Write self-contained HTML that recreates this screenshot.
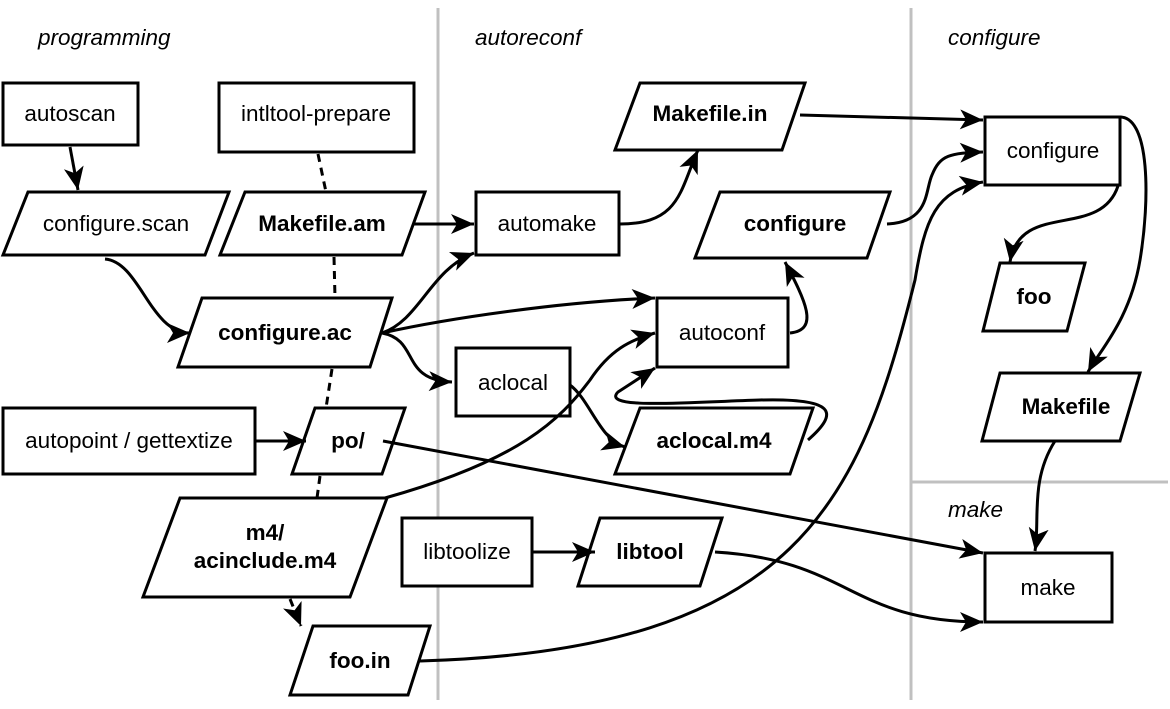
<!DOCTYPE html>
<html><head><meta charset="utf-8"><style>
html,body{margin:0;padding:0;background:#fff}
svg{display:block}
text{font-family:"Liberation Sans",sans-serif;font-size:22.5px;fill:#000}
.b{font-weight:bold}
.i{font-style:italic}
</style></head><body>
<svg width="1170" height="709" viewBox="0 0 1170 709" xmlns="http://www.w3.org/2000/svg">
<defs>
<marker id="a" markerUnits="userSpaceOnUse" markerWidth="26" markerHeight="22" refX="23" refY="10" orient="auto">
<path d="M0,0 L23,10 L0,20 L6,10 z" fill="#000"/>
</marker>
</defs>
<g stroke="#c0c0c0" stroke-width="3">
<line x1="438" y1="8" x2="438" y2="700"/>
<line x1="911" y1="8" x2="911" y2="700"/>
<line x1="911" y1="482" x2="1168" y2="482"/>
</g>
<text class="i" x="38" y="45">programming</text>
<text class="i" x="475" y="45">autoreconf</text>
<text class="i" x="948" y="45">configure</text>
<text class="i" x="948" y="517">make</text>

<g fill="#fff" stroke="#000" stroke-width="3">
<rect x="3" y="83" width="135" height="62"/>
<rect x="219" y="83" width="195" height="69"/>
<polygon points="28,192 229,192 205,255 3,255"/>
<polygon points="245,192 425,192 402,255 220,255"/>
<rect x="476" y="192" width="143" height="63"/>
<polygon points="640,83 805,83 782,150 615,150"/>
<polygon points="720,192 890,192 867,258 695,258"/>
<rect x="985" y="117" width="135" height="68"/>
<polygon points="202,298 392,298 370,367 178,367"/>
<rect x="657" y="298" width="131" height="69"/>
<rect x="456" y="348" width="114" height="68"/>
<polygon points="1000,263 1085,263 1067,331 983,331"/>
<polygon points="1000,373 1140,373 1120,441 982,441"/>
<rect x="3" y="408" width="252" height="66"/>
<polygon points="315,408 405,408 382,474 292,474"/>
<polygon points="640,408 813,408 790,474 615,474"/>
<polygon points="180,498 387,498 350,597 143,597"/>
<rect x="402" y="518" width="130" height="68"/>
<polygon points="600,518 722,518 700,586 578,586"/>
<rect x="985" y="553" width="127" height="69"/>
<polygon points="313,626 430,626 408,695 290,695"/>
</g>

<g text-anchor="middle">
<text x="70" y="121">autoscan</text>
<text x="316" y="121">intltool-prepare</text>
<text x="116" y="231">configure.scan</text>
<text class="b" x="322" y="231">Makefile.am</text>
<text x="547" y="231">automake</text>
<text class="b" x="710" y="121">Makefile.in</text>
<text class="b" x="795" y="231">configure</text>
<text x="1053" y="158">configure</text>
<text class="b" x="285" y="340">configure.ac</text>
<text x="722" y="340">autoconf</text>
<text x="513" y="390">aclocal</text>
<text class="b" x="1034" y="304">foo</text>
<text class="b" x="1066" y="414">Makefile</text>
<text x="129" y="448">autopoint / gettextize</text>
<text class="b" x="348" y="448">po/</text>
<text class="b" x="714" y="448">aclocal.m4</text>
<text class="b" x="265" y="540">m4/</text>
<text class="b" x="265" y="568">acinclude.m4</text>
<text x="467" y="559">libtoolize</text>
<text class="b" x="650" y="559">libtool</text>
<text x="1048" y="595">make</text>
<text class="b" x="360" y="668">foo.in</text>
</g>

<g fill="none" stroke="#000" stroke-width="3">
<path d="M318,154 L326,192" stroke-dasharray="8,6"/>
<path d="M334,257 L335,298" stroke-dasharray="8,6"/>
<path d="M332,369 L326,408" stroke-dasharray="8,6"/>
<path d="M320,476 L317,498" stroke-dasharray="8,6"/>
<path d="M290,599 L301,626" stroke-dasharray="8,6" marker-end="url(#a)"/>
<path d="M70,147 L78,190" marker-end="url(#a)"/>
<path d="M105,259 C140,262 150,333 190,333" marker-end="url(#a)"/>
<path d="M413,224 L474,224" marker-end="url(#a)"/>
<path d="M382,333 C420,320 430,270 474,253" marker-end="url(#a)"/>
<path d="M382,333 C450,318 560,302 655,298" marker-end="url(#a)"/>
<path d="M382,333 C420,340 400,380 452,382" marker-end="url(#a)"/>
<path d="M620,224 C680,224 680,190 698,150" marker-end="url(#a)"/>
<path d="M800,115 L983,120" marker-end="url(#a)"/>
<path d="M887,224 C930,222 925,190 932,175 C940,155 950,153 983,152" marker-end="url(#a)"/>
<path d="M420,661 C800,650 860,500 915,280 C925,220 935,190 983,182" marker-end="url(#a)"/>
<path d="M385,498 C520,460 560,420 590,380 C610,350 630,340 655,333" marker-end="url(#a)"/>
<path d="M790,333 C820,330 805,300 785,262" marker-end="url(#a)"/>
<path d="M570,385 C590,400 600,440 625,447" marker-end="url(#a)"/>
<path d="M808,440 C840,412 835,398 760,400 C690,402 600,410 618,392 L655,368" marker-end="url(#a)"/>
<path d="M255,441 L306,441" marker-end="url(#a)"/>
<path d="M383,441 L983,553" marker-end="url(#a)"/>
<path d="M532,552 L595,552" marker-end="url(#a)"/>
<path d="M715,552 C850,560 850,622 983,622" marker-end="url(#a)"/>
<path d="M1118,186 C1100,240 1020,200 1010,262" marker-end="url(#a)"/>
<path d="M1120,117 C1150,117 1150,200 1140,260 C1130,320 1100,350 1088,372" marker-end="url(#a)"/>
<path d="M1055,441 C1030,480 1040,520 1035,551" marker-end="url(#a)"/>
</g>
</svg>
</body></html>
